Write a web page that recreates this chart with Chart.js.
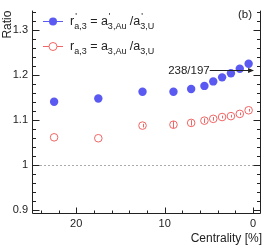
<!DOCTYPE html>
<html>
<head>
<meta charset="utf-8">
<script src="https://cdn.jsdelivr.net/npm/chart.js@4.4.1/dist/chart.umd.min.js"></script>
<style>
  body { margin: 0; background: #fff; }
  canvas { display: block; }
</style>
</head>
<body>
<canvas id="myChart" width="266" height="248"></canvas>
<script>
// Datos
const centrality = [22.5, 17.5, 12.5, 9, 7, 5.5, 4.5, 3.5, 2.5, 1.5, 0.5];
const ratioPrime = [1.141, 1.148, 1.163, 1.163, 1.169, 1.176, 1.186, 1.195, 1.204, 1.214, 1.225];
const ratio = [1.062, 1.060, 1.088, 1.090, 1.094, 1.099, 1.103, 1.107, 1.109, 1.114, 1.122];
const ratioErr = [0, 0, 0.004, 0.008, 0.006, 0.005, 0.004, 0.003, 0.003, 0.003, 0.003];
const xTicks = [0, 10, 20];
const yTicks = [0.9, 1.0, 1.1, 1.2, 1.3];
const arrowFrom = [4.9, 1.212];
const arrowTo = [0, 1.212];
const arrowText = '238/197';
const xTitle = 'Centrality [%]';

const FONT = '"Liberation Sans", Arial, sans-serif';
const BLUE = 'rgb(90,90,242)';
const RED = 'rgb(240,100,100)';
const INK = '#222';

// texto con sub/superíndices
function drawRich(ctx, x, y, parts, size) {
    const small = Math.round(size * 0.7);
    ctx.textBaseline = 'alphabetic';
    ctx.textAlign = 'left';
    parts.forEach(p => {
        if (p.t) {
            ctx.font = size + 'px ' + FONT;
            ctx.fillText(p.t, x, y);
            x += ctx.measureText(p.t).width;
        } else {
            ctx.font = small + 'px ' + FONT;
            let w = 0;
            if (p.sup) {
                ctx.fillText(p.sup, x + 1, y - size * 0.45);
                w = ctx.measureText(p.sup).width + 1;
            }
            if (p.sub) {
                ctx.fillText(p.sub, x, y + size * 0.3);
                w = Math.max(w, ctx.measureText(p.sub).width);
            }
            x += w;
        }
    });
}

const legendRows = [
    { color: BLUE, filled: true, parts: [{t: 'r'}, {sup: "'", sub: 'a,3'}, {t: ' = a'}, {sup: "'", sub: '3,Au'}, {t: ' /a'}, {sup: "'", sub: '3,U'}] },
    { color: RED, filled: false, parts: [{t: 'r'}, {sub: 'a,3'}, {t: ' = a'}, {sub: '3,Au'}, {t: ' /a'}, {sub: '3,U'}] }
];

const framePlugin = {
    id: 'frame',
    beforeDatasetsDraw(chart) {
        const ctx = chart.ctx;
        const xs = chart.scales.x, ys = chart.scales.y;
        const a = chart.chartArea;
        ctx.save();
        // línea punteada en 1
        ctx.strokeStyle = '#aaa';
        ctx.lineWidth = 1;
        ctx.setLineDash([2, 2]);
        const y1 = Math.round(ys.getPixelForValue(1)) + 0.5;
        ctx.beginPath();
        ctx.moveTo(a.left, y1);
        ctx.lineTo(a.right, y1);
        ctx.stroke();
        ctx.setLineDash([]);
        // barras de error
        ctx.strokeStyle = RED;
        ratio.forEach((v, i) => {
            if (!ratioErr[i]) return;
            const px = Math.round(xs.getPixelForValue(centrality[i])) + 0.5;
            ctx.beginPath();
            ctx.moveTo(px, ys.getPixelForValue(v - ratioErr[i]));
            ctx.lineTo(px, ys.getPixelForValue(v + ratioErr[i]));
            ctx.stroke();
        });
        ctx.restore();
    },
    afterDatasetsDraw(chart) {
        const ctx = chart.ctx;
        const xs = chart.scales.x, ys = chart.scales.y;
        const a = chart.chartArea;
        ctx.save();
        ctx.strokeStyle = INK;
        ctx.lineWidth = 1;
        const L = Math.round(a.left) + 0.5, R = Math.round(a.right) - 0.5, B = Math.round(a.bottom) - 0.5;
        ctx.beginPath();
        ctx.moveTo(L, a.top);
        ctx.lineTo(L, B);
        ctx.lineTo(R, B);
        ctx.lineTo(R, a.top);
        ctx.stroke();
        // marcas eje y (dentro, ambos lados)
        ctx.beginPath();
        for (let k = 0; k <= 23; k++) {
            const v = 0.9 + k * 0.02;
            if (v > ys.max) break;
            const major = k % 5 === 0;
            const len = major ? 7 : 3.5;
            const py = Math.round(ys.getPixelForValue(v)) + 0.5;
            ctx.moveTo(L, py); ctx.lineTo(L + len, py);
            ctx.moveTo(R, py); ctx.lineTo(R - len, py);
        }
        // marcas eje x
        for (let k = 0; k <= 12; k++) {
            const v = k * 2;
            const major = k % 5 === 0;
            const len = major ? 6 : 3;
            const px = Math.round(xs.getPixelForValue(v)) + 0.5;
            ctx.moveTo(px, B); ctx.lineTo(px, B - len);
        }
        ctx.stroke();

        // flecha 238/197
        const ax0 = xs.getPixelForValue(arrowFrom[0]);
        const ax1 = xs.getPixelForValue(arrowTo[0]);
        const ay = Math.round(ys.getPixelForValue(arrowFrom[1])) + 0.5;
        ctx.beginPath();
        ctx.moveTo(ax0, ay);
        ctx.lineTo(ax1 - 4, ay);
        ctx.stroke();
        ctx.fillStyle = INK;
        ctx.beginPath();
        ctx.moveTo(ax1 + 1, ay);
        ctx.lineTo(ax1 - 5, ay - 2.5);
        ctx.lineTo(ax1 - 5, ay + 2.5);
        ctx.closePath();
        ctx.fill();
        ctx.font = '11.5px ' + FONT;
        ctx.textAlign = 'right';
        ctx.textBaseline = 'middle';
        ctx.fillText(arrowText, ax0, ay);

        // (b)
        ctx.fillText('(b)', 252, 15);

        // título eje x
        ctx.font = '12px ' + FONT;
        ctx.fillText(xTitle, a.right + 1, 239);

        // leyenda
        legendRows.forEach((row, i) => {
            const cy = 21 + i * 25;
            ctx.strokeStyle = row.color;
            ctx.beginPath();
            ctx.moveTo(43, cy + 0.5);
            ctx.lineTo(63, cy + 0.5);
            ctx.stroke();
            ctx.beginPath();
            ctx.arc(53, cy + 0.5, 4, 0, Math.PI * 2);
            if (row.filled) {
                ctx.fillStyle = row.color;
                ctx.fill();
            } else {
                ctx.fillStyle = '#fff';
                ctx.fill();
                ctx.stroke();
            }
            ctx.fillStyle = INK;
            drawRich(ctx, 70, cy + 4, row.parts, 12.5);
        });
        ctx.restore();
    }
};

const ctx = document.getElementById('myChart').getContext('2d');
const myChart = new Chart(ctx, {
    type: 'scatter',
    data: {
        datasets: [
            {
                label: "r'a,3",
                data: centrality.map((c, i) => ({x: c, y: ratioPrime[i]})),
                backgroundColor: BLUE,
                borderColor: BLUE,
                pointRadius: 4.2,
                borderWidth: 0
            },
            {
                label: 'ra,3',
                data: centrality.map((c, i) => ({x: c, y: ratio[i]})),
                backgroundColor: 'rgba(255,255,255,0)',
                borderColor: RED,
                pointRadius: 3.8,
                borderWidth: 1
            }
        ]
    },
    options: {
        responsive: false,
        animation: false,
        devicePixelRatio: 1,
        layout: { padding: { top: 3, right: 5, left: 0, bottom: 0 } },
        plugins: {
            legend: { display: false },
            tooltip: { enabled: false }
        },
        scales: {
            x: {
                type: 'linear',
                reverse: true,
                min: -0.9,
                max: 25,
                afterBuildTicks: s => { s.ticks = xTicks.map(v => ({value: v})); },
                afterFit: s => { s.height = 34; },
                grid: { display: false, drawTicks: false },
                border: { display: false },
                ticks: {
                    color: INK,
                    font: { family: FONT, size: 11 },
                    padding: 3,
                    maxRotation: 0,
                    autoSkip: false
                }
            },
            y: {
                type: 'linear',
                min: 0.892,
                max: 1.343,
                afterBuildTicks: s => { s.ticks = yTicks.map(v => ({value: v})); },
                afterFit: s => { s.width = 32; },
                grid: { display: false, drawTicks: false },
                border: { display: false },
                ticks: {
                    color: INK,
                    font: { family: FONT, size: 11 },
                    padding: 4,
                    autoSkip: false,
                    callback: v => Math.abs(v - 1) < 1e-9 ? '1' : v.toFixed(1)
                },
                title: {
                    display: true,
                    text: 'Ratio',
                    align: 'end',
                    color: INK,
                    font: { family: FONT, size: 12 },
                    padding: 0
                }
            }
        }
    },
    plugins: [framePlugin]
});
</script>
</body>
</html>
